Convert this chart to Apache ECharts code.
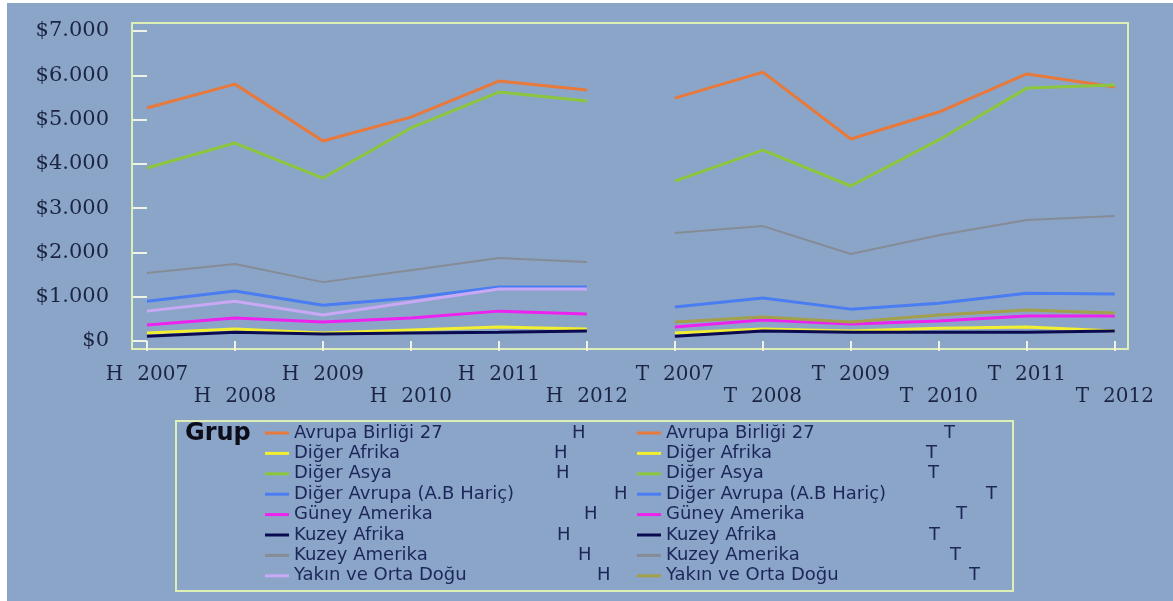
<!DOCTYPE html>
<html>
<head>
<meta charset="utf-8">
<script src="https://cdn.jsdelivr.net/npm/echarts@6/dist/echarts.min.js"></script>
<style>
html,body{margin:0;padding:0;background:#ffffff;width:1173px;height:601px;overflow:hidden;}
#chart{position:absolute;left:7px;top:3px;width:1166px;height:598px;}
</style>
</head>
<body>
<div id="chart"></div>
<script>
// ---- data ----
const categories = ['H 2007','H 2008','H 2009','H 2010','H 2011','H 2012','T 2007','T 2008','T 2009','T 2010','T 2011','T 2012'];
const regions = ['Avrupa Birliği 27','Diğer Afrika','Diğer Asya','Diğer Avrupa (A.B Hariç)','Güney Amerika','Kuzey Afrika','Kuzey Amerika','Yakın ve Orta Doğu'];
const groups = ['H','T'];
const yTicks = [0,1000,2000,3000,4000,5000,6000,7000];

const avrupaH        = [5260,5800,4515,5055,5870,5665];
const avrupaT        = [5485,6070,4560,5170,6030,5735];
const digerAfrikaH   = [180,270,180,250,315,270];
const digerAfrikaT   = [180,270,225,290,315,225];
const digerAsyaH     = [3905,4470,3680,4810,5620,5420];
const digerAsyaT     = [3610,4310,3500,4540,5710,5780];
const digerAvrupaH   = [900,1130,810,970,1220,1220];
const digerAvrupaT   = [770,970,720,855,1080,1060];
const guneyAmerikaH  = [360,520,430,520,675,610];
const guneyAmerikaT  = [315,475,385,450,565,565];
const kuzeyAfrikaH   = [110,200,160,180,200,225];
const kuzeyAfrikaT   = [110,225,200,200,200,225];
const kuzeyAmerikaH  = [1535,1740,1330,1600,1875,1785];
const kuzeyAmerikaT  = [2440,2595,1965,2390,2730,2820];
const yakinDoguH     = [675,900,590,880,1175,1175];
const yakinDoguT     = [430,540,430,590,700,630];

const valuesH = [avrupaH, digerAfrikaH, digerAsyaH, digerAvrupaH, guneyAmerikaH, kuzeyAfrikaH, kuzeyAmerikaH, yakinDoguH];
const valuesT = [avrupaT, digerAfrikaT, digerAsyaT, digerAvrupaT, guneyAmerikaT, kuzeyAfrikaT, kuzeyAmerikaT, yakinDoguT];

// ---- styles ----
const colorsH = ['#E8793A','#F2EE30','#8CC63E','#4A7CF2','#EE22EE','#0A0A50','#868C96','#C9A8F5'];
const colorsT = ['#E8793A','#F2EE30','#8CC63E','#4A7CF2','#EE22EE','#0A0A50','#868C96','#A2A04A'];
const widths  = [3,3,3,3,3,3,2,3];
const tagOffset = [278,260,262,320,290,263,284,303];
const BG = '#8BA5C9';
const FRAME = '#DDEFB5';
const TXT = '#1B2442';
const LEG_TXT = '#1C2657';

const series = [];
groups.forEach((g, gi) => {
  const vals = gi === 0 ? valuesH : valuesT;
  const cols = gi === 0 ? colorsH : colorsT;
  regions.forEach((r, ri) => {
    series.push({
      name: r + ' ' + g,
      type: 'line',
      symbol: 'none',
      color: cols[ri],
      lineStyle: { width: widths[ri], color: cols[ri] },
      data: vals[ri].map((v, i) => [gi * 6 + i, v]),
      z: 2
    });
  });
});

const rich = {};
tagOffset.forEach((w, i) => { rich['n' + i] = { width: w, fontSize: 18, lineHeight: 20, color: LEG_TXT, fontFamily: 'DejaVu Sans' }; });
rich.t = { fontSize: 18, lineHeight: 20, color: LEG_TXT, fontFamily: 'DejaVu Sans' };
function legendFmt(name) {
  const k = name.lastIndexOf(' ');
  const reg = name.slice(0, k), tag = name.slice(k + 1);
  const idx = regions.indexOf(reg);
  return '{n' + idx + '|' + reg + '}{t|' + tag + '}';
}
function mkLegend(g, left) {
  return {
    data: regions.map(r => r + ' ' + g),
    orient: 'vertical', left: left, top: 420,
    icon: 'rect', itemWidth: 24, itemHeight: 3, itemGap: 0.4,
    selectedMode: false, padding: 0,
    formatter: legendFmt,
    textStyle: { fontSize: 18, lineHeight: 20, color: LEG_TXT, fontFamily: 'DejaVu Sans', rich: rich }
  };
}

const chart = echarts.init(document.getElementById('chart'), null, { renderer: 'canvas' });
chart.setOption({
  backgroundColor: BG,
  animation: false,
  title: {
    text: 'Grup', left: 178, top: 419, padding: 0,
    textStyle: { fontFamily: 'DejaVu Sans', fontWeight: 'bold', fontSize: 24, color: '#0D0D1A' }
  },
  legend: [mkLegend('H', 258), mkLegend('T', 630)],
  grid: {
    left: 125, top: 20, width: 996, height: 326,
    show: true, borderColor: FRAME, borderWidth: 2, backgroundColor: 'transparent'
  },
  xAxis: {
    type: 'value', min: -0.17, max: 11.15,
    axisLine: { show: false },
    splitLine: { show: false },
    axisTick: { show: true, length: 10, customValues: categories.map((c, i) => i), lineStyle: { color: '#EEF3E6', width: 2 } },
    axisLabel: {
      customValues: categories.map((c, i) => i),
      hideOverlap: false,
      margin: 15,
      fontFamily: 'DejaVu Serif', fontSize: 20, lineHeight: 22, color: TXT,
      formatter: function (v) {
        const i = Math.round(v);
        const s = categories[i].replace(' ', '\u2002\u2009');
        return i % 2 ? '\n' + s : s;
      }
    }
  },
  yAxis: {
    type: 'value', min: -180, max: 7180,
    axisLine: { show: false },
    splitLine: { show: false },
    axisTick: { show: true, length: 14, customValues: yTicks, lineStyle: { color: '#EEF3E6', width: 2 } },
    axisLabel: {
      customValues: yTicks,
      showMinLabel: true, showMaxLabel: true,
      margin: 23,
      fontFamily: 'DejaVu Serif', fontSize: 21, color: TXT,
      formatter: function (v) {
        return '$' + String(Math.round(v)).replace(/\B(?=(\d{3})+(?!\d))/g, '.');
      }
    }
  },
  graphic: [{
    type: 'rect', left: 168, top: 417, z: 0,
    shape: { width: 837, height: 170 },
    style: { fill: 'transparent', stroke: FRAME, lineWidth: 2 }
  }],
  series: series
});
</script>
</body>
</html>
